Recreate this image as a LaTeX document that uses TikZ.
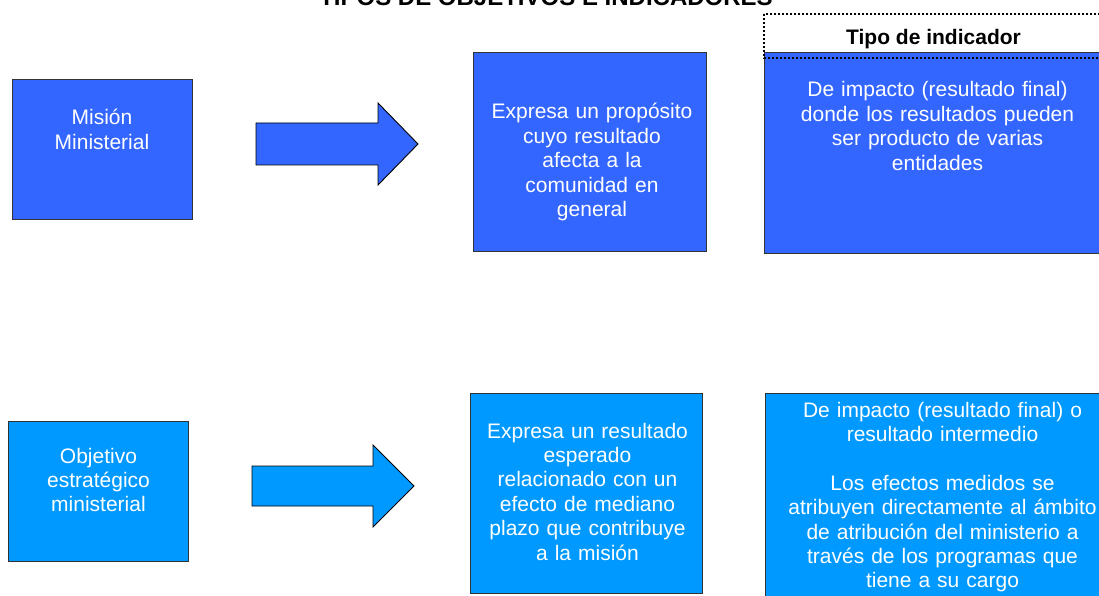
\documentclass[tikz,border=0pt]{standalone}
\usepackage{fontspec}
\setmainfont{Liberation Sans}
\definecolor{misionblue}{HTML}{3366FF}
\definecolor{objblue}{HTML}{0099FF}
\tikzset{
  topbox/.style={draw=black!80, line width=0.9pt, fill=misionblue, inner sep=0pt},
  lowbox/.style={draw=black!80, line width=0.9pt, fill=objblue, inner sep=0pt},
  boxtext/.style={anchor=base, text=white, inner sep=0pt, text width=360pt, align=center,
    font=\fontsize{21}{24.4}\selectfont},
  dotframe/.style={line width=2pt, dash pattern=on 2pt off 2pt},
}
\begin{document}
\begin{tikzpicture}[x=1pt,y=-1pt]
\path[use as bounding box, clip] (0,0) rectangle (1099,596);
\node[font=\bfseries\fontsize{24}{28}\selectfont, anchor=base, inner sep=0pt] (titulo) at (546,6) {TIPOS DE OBJETIVOS E INDICADORES};
% fila de la mision
\node[topbox, minimum width=180pt, minimum height=140pt] (mision) at (102,149) {};
\node[boxtext] (misiontxt) at (102,125) {Misión\\Ministerial};
\draw[fill=misionblue, line width=0.9pt] (256,123) -- (378,123) -- (378,103) -- (418,144) -- (378,185) -- (378,165) -- (256,165) -- cycle;
\node[topbox, minimum width=233pt, minimum height=199pt] (proposito) at (589.5,151.5) {};
\node[boxtext] (propositotxt) at (592,119) {Expresa un propósito\\cuyo resultado\\afecta a la\\comunidad en\\general};
\node[topbox, minimum width=347pt, minimum height=201pt] (impacto) at (937.5,152.5) {};
\node[boxtext] (impactotxt) at (937.5,97) {De impacto (resultado final)\\donde los resultados pueden\\ser producto de varias\\entidades};
\draw[dotframe] (764,14) rectangle (1112,58);
\node[font=\bfseries\fontsize{21}{24}\selectfont, anchor=base, inner sep=0pt] (tipo) at (933.5,45) {Tipo de indicador};
% fila del objetivo
\node[lowbox, minimum width=180pt, minimum height=140pt] (objetivo) at (98,491) {};
\node[boxtext] (objetivotxt) at (98.5,463) {Objetivo\\estratégico\\ministerial};
\draw[fill=objblue, line width=0.9pt] (252,466) -- (373,466) -- (373,445) -- (414,486) -- (373,527) -- (373,506) -- (252,506) -- cycle;
\node[lowbox, minimum width=232pt, minimum height=200pt] (esperado) at (586,493) {};
\node[boxtext] (esperadotxt) at (587.5,438) {Expresa un resultado\\esperado\\relacionado con un\\efecto de mediano\\plazo que contribuye\\a la misión};
\node[lowbox, minimum width=355pt, minimum height=215pt] (intermedio) at (942.5,500.5) {};
\node[boxtext] (intermediotxt) at (942.5,417) {De impacto (resultado final) o\\resultado intermedio\\[24.4pt]Los efectos medidos se\\atribuyen directamente al ámbito\\de atribución del ministerio a\\través de los programas que\\tiene a su cargo};
\end{tikzpicture}
\end{document}
